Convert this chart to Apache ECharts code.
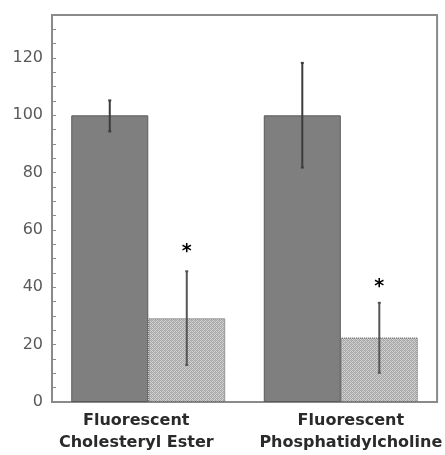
<!DOCTYPE html>
<html><head><meta charset="utf-8">
<script src="https://cdn.jsdelivr.net/npm/echarts@6/dist/echarts.min.js"></script>
<style>html,body{margin:0;padding:0;background:#fff}#c{width:445px;height:455px}</style>
</head><body><div id="c"></div>
<script>
const categories = ['Fluorescent\nCholesteryl Ester', 'Fluorescent\nPhosphatidylcholine'];
const controlValues = [100, 100];
const controlErrLow = [94.4, 81.8];
const controlErrHigh = [105.2, 118.3];
const treatedValues = [29.2, 22.5];
const treatedErrLow = [12.9, 10.2];
const treatedErrHigh = [45.6, 34.6];
const starY = [53.6, 41.6];
const yTicks = [0, 20, 40, 60, 80, 100, 120];

// hatch pattern
const pc = document.createElement('canvas');
pc.width = 4; pc.height = 4;
const pctx = pc.getContext('2d');
pctx.fillStyle = '#d2d2d2'; pctx.fillRect(0,0,4,4);
pctx.fillStyle = '#a8a8a8';
pctx.fillRect(0,0,1,1); pctx.fillRect(2,0,1,1);
pctx.fillRect(1,1,1,1); pctx.fillRect(3,1,1,1);
pctx.fillRect(0,2,1,1); pctx.fillRect(2,2,1,1);
pctx.fillRect(1,3,1,1); pctx.fillRect(3,3,1,1);
pctx.fillStyle = '#b8b8b8';
pctx.fillRect(3,0,1,1); pctx.fillRect(1,2,1,1);

const chart = echarts.init(document.getElementById('c'), null, {renderer: 'canvas'});

function errItem(side, lows, highs, color, withStar) {
  return function (params, api) {
    const i = params.dataIndex;
    const band = api.size([1, 0])[0];
    const off = side * band * 0.8 / 4;
    const pLow = api.coord([i, lows[i]]);
    const pHigh = api.coord([i, highs[i]]);
    const x = pLow[0] + off;
    const children = [
      {type: 'line', shape: {x1: x, y1: pLow[1], x2: x, y2: pHigh[1]},
       style: {stroke: color, lineWidth: 2}},
      {type: 'line', shape: {x1: x - 1.5, y1: pHigh[1], x2: x + 1.5, y2: pHigh[1]},
       style: {stroke: color, lineWidth: 2}},
      {type: 'line', shape: {x1: x - 1.5, y1: pLow[1], x2: x + 1.5, y2: pLow[1]},
       style: {stroke: color, lineWidth: 2}}
    ];
    if (withStar) {
      const ps = api.coord([i, starY[i]]);
      children.push({type: 'text', style: {text: '*', x: x, y: ps[1] + 4, fill: '#000',
        font: 'bold 19px "DejaVu Sans"', textAlign: 'center', textVerticalAlign: 'middle'}});
    }
    return {type: 'group', children: children};
  };
}

const labelFont = {color: '#2a2a2a', fontFamily: 'DejaVu Sans', fontSize: 16, fontWeight: 'bold', lineHeight: 22};

chart.setOption({
  animation: false,
  grid: {left: 52, right: 7, top: 15, bottom: 53, show: true, borderColor: '#8a8a8a', borderWidth: 2, backgroundColor: 'transparent'},
  xAxis: {
    type: 'category', data: categories,
    axisTick: {show: false},
    axisLine: {lineStyle: {color: '#8a8a8a', width: 2}},
    axisLabel: Object.assign({margin: 8, interval: 0,
      formatter: (v, idx) => {
        const tag = idx === 0 ? 'a' : 'b';
        return v.split('\n').map(s => '{' + tag + '|' + s + '}').join('\n');
      },
      rich: {
        a: Object.assign({padding: [0, 24, 0, 0]}, labelFont),
        b: Object.assign({padding: [0, 0, 0, 20]}, labelFont)
      }}, labelFont)
  },
  yAxis: {
    type: 'value', min: 0, max: 135, interval: 20,
    splitLine: {show: false},
    axisLine: {show: true, lineStyle: {color: '#8a8a8a', width: 2}},
    axisTick: {show: true, inside: true, length: 4, lineStyle: {color: '#8a8a8a', width: 1}},
    minorTick: {show: true, splitNumber: 4, length: 4, lineStyle: {color: '#8a8a8a', width: 1}},
    axisLabel: {color: '#5a5a5a', fontFamily: 'DejaVu Sans', fontSize: 16, margin: 9, showMaxLabel: false,
      formatter: v => yTicks.indexOf(v) >= 0 ? String(v) : ''}
  },
  series: [
    {type: 'bar', data: controlValues, barGap: '0%', barCategoryGap: '20%',
     itemStyle: {color: '#7f7f7f', borderColor: '#5a5a5a', borderWidth: 1}},
    {type: 'bar', data: treatedValues,
     itemStyle: {color: {image: pc, repeat: 'repeat'}, borderColor: '#555', borderWidth: 1, borderType: 'dotted'}},
    {type: 'custom', data: controlValues.map((v, i) => [i, v]), renderItem: errItem(-1, controlErrLow, controlErrHigh, '#3c3c3c', false), z: 10},
    {type: 'custom', data: treatedValues.map((v, i) => [i, v]), renderItem: errItem(1, treatedErrLow, treatedErrHigh, '#555555', true), z: 10}
  ]
});
</script></body></html>
